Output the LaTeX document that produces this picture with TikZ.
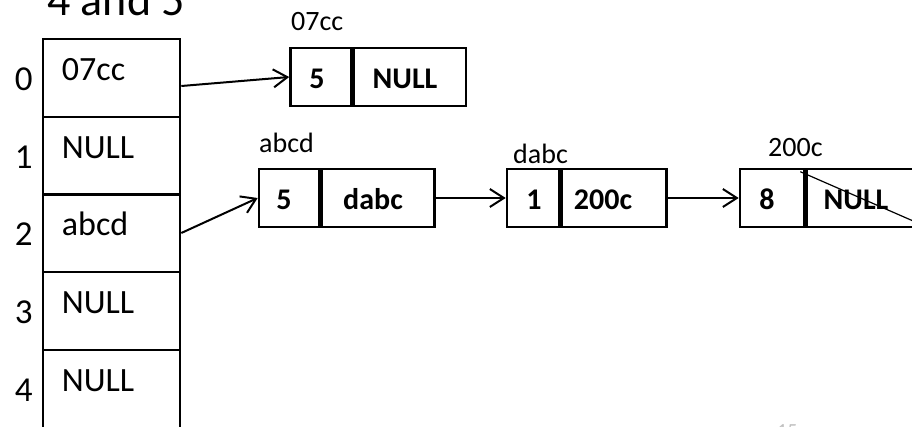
\documentclass[tikz,border=0pt]{standalone}
\usepackage{fontspec}
\setmainfont{Carlito}
\usetikzlibrary{arrows.meta,calc}
\begin{document}
\begin{tikzpicture}[x=1pt,y=-1pt,
  slot/.style={draw,line width=2.6pt,minimum width=137pt,minimum height=78pt,inner sep=0pt},
  cellbox/.style={draw,line width=2.6pt,minimum height=58pt,inner sep=0pt},
  bigtxt/.style={inner sep=0pt,anchor=base,font=\fontsize{35}{40}\selectfont},
  slottxt/.style={inner sep=0pt,anchor=base west,font=\fontsize{34}{40}\selectfont},
  boldtxt/.style={inner sep=0pt,anchor=base,font=\fontsize{30}{36}\selectfont\bfseries},
  addrtxt/.style={inner sep=0pt,anchor=base west,font=\fontsize{28}{34}\selectfont},
  arr/.style={line width=2pt,-{Straight Barb[length=14pt,width=18pt]}}
]
\useasboundingbox (0,0) rectangle (912,426);
\clip (0,0) rectangle (912,426);
% title
\node[inner sep=0pt,anchor=base west,font=\fontsize{46}{54}\selectfont] (title) at (47,15) {4 and 5};
% array
\foreach \i/\yc/\t in {0/78/07cc,1/156/NULL,2/233/abcd,3/311/NULL,4/389/NULL}{
  \node[slot] (c\i) at (111.5,\yc) {};
  \node[slottxt] (ct\i) at ($(c\i.north west)+(20,43)$) {\t};
  \node[bigtxt] (ix\i) at ($(c\i.north west)+(-18,53)$) {\i};
}
% list node 07cc
\node[cellbox,minimum width=61pt] (d1) at (321,77) {};
\node[cellbox,minimum width=112pt,anchor=west] (p1) at (d1.east) {};
\node[boldtxt] (d1t) at (317,88) {5};
\node[boldtxt] (p1t) at (405,88) {NULL};
\node[addrtxt] (l1) at (291,30) {07cc};
% list node abcd
\node[cellbox,minimum width=60pt] (d2) at (289,198) {};
\node[cellbox,minimum width=113pt,anchor=west] (p2) at (d2.east) {};
\node[boldtxt] (d2t) at (284,209) {5};
\node[boldtxt] (p2t) at (373,209) {dabc};
\node[addrtxt] (l2) at (259,152) {abcd};
% list node dabc
\node[cellbox,minimum width=52pt] (d3) at (533,198) {};
\node[cellbox,minimum width=105pt,anchor=west] (p3) at (d3.east) {};
\node[boldtxt] (d3t) at (534,209) {1};
\node[boldtxt] (p3t) at (603,209) {200c};
\node[addrtxt] (l3) at (513,163) {dabc};
% list node 200c
\node[cellbox,minimum width=64pt] (d4) at (772,198) {};
\node[cellbox,minimum width=122pt,anchor=west] (p4) at (d4.east) {};
\node[boldtxt] (d4t) at (767,209) {8};
\node[boldtxt] (p4t) at (856,209) {NULL};
\node[addrtxt] (l4) at (768,156) {200c};
\draw[line width=1.2pt] ($(p4.north west)+(-5,4)$) -- (p4.south east);
% connectors
\draw[arr] ([yshift=-8pt]c0.east) -- (d1.west);
\draw[arr] (c2.east) -- (d2.west);
\draw[arr] (p2.east) -- (d3.west);
\draw[arr] (p3.east) -- (d4.west);
% faint page number
\node[inner sep=0pt,anchor=base west,text=black!25,font=\fontsize{20}{24}\selectfont] (pg) at (777,437) {15};
\end{tikzpicture}
\end{document}
